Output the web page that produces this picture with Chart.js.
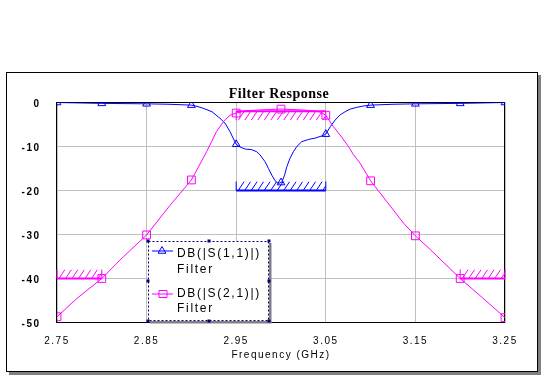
<!DOCTYPE html>
<html>
<head>
<meta charset="utf-8">
<script src="https://cdn.jsdelivr.net/npm/chart.js@4.4.1/dist/chart.umd.min.js"></script>
<style>
  html, body { margin: 0; padding: 0; background: #fff; }
  #wrap { width: 546px; height: 388px; }
</style>
</head>
<body>
<div id="wrap"><canvas id="chart" width="546" height="388"></canvas></div>
<script>
const chartTitle = "Filter Response";
const xTitle = "Frequency (GHz)";

// frequency ticks (GHz)
const xTicks = [2.75, 2.85, 2.95, 3.05, 3.15, 3.25];

// DB(|S(1,1)|) trace
const s11Freq = [2.75, 2.80, 2.85, 2.875, 2.90, 2.905, 2.913, 2.923, 2.932, 2.9375,
  2.943, 2.9485, 2.95, 2.955, 2.9605, 2.967, 2.973, 2.9766, 2.982, 2.986,
  2.9897, 2.9934, 2.997, 3.001, 3.004, 3.0065, 3.010, 3.0138, 3.0176, 3.0232,
  3.0306, 3.038, 3.0455, 3.05, 3.055, 3.0604, 3.066, 3.0716, 3.0772, 3.0846,
  3.092, 3.10, 3.125, 3.15, 3.20, 3.25];
const s11Db = [0, -0.2, -0.3, -0.4, -0.6, -0.8, -1.3, -2.1, -3.6, -4.7,
  -6.6, -8.9, -9.5, -10.2, -10.6, -10.7, -11.2, -11.9, -13.4, -15.0,
  -16.5, -17.8, -18.4, -18.1, -16.5, -14.6, -12.7, -11.2, -10.0, -8.9,
  -8.4, -8.1, -7.6, -7.2, -5.5, -4.0, -2.8, -2.1, -1.5, -1.1,
  -0.8, -0.6, -0.4, -0.3, -0.2, 0];

// DB(|S(2,1)|) trace
const s21Freq = [2.75, 2.7718, 2.80, 2.8239, 2.85, 2.876, 2.90, 2.917, 2.928, 2.9356,
  2.943, 2.95, 2.96, 2.975, 3.00, 3.025, 3.04, 3.0439, 3.05, 3.0585,
  3.066, 3.0753, 3.081, 3.0883, 3.10, 3.118, 3.1367, 3.15, 3.1665,
  3.20, 3.225, 3.25];
const s21Db = [-48.7, -44.6, -40.0, -35.1, -30.1, -23.4, -17.6, -11.2, -6.6, -4.4,
  -2.9, -2.4, -1.9, -1.7, -1.5, -1.7, -2.0, -2.2, -2.9, -5.5,
  -7.4, -10.0, -11.9, -13.8, -17.8, -22.5, -27.4, -30.3, -33.4,
  -40.0, -44.4, -48.9];

// trace markers
const markerFreq = [2.75, 2.80, 2.85, 2.90, 2.95, 3.00, 3.05, 3.10, 3.15, 3.20, 3.25];
const s11MarkerDb = [0, -0.2, -0.3, -0.6, -9.5, -18.2, -7.2, -0.6, -0.3, -0.2, 0];
const s21MarkerDb = [-48.7, -40.0, -30.1, -17.6, -2.4, -1.5, -2.9, -17.8, -30.3, -40.0, -48.9];

// optimisation goals: S21 > -2 dB in band, S11 < -20 dB in band, S21 < -40 dB out of band
const goalSeries = ["S21", "S11", "S21", "S21"];
const goalType = [">", "<", "<", "<"];
const goalStart = [2.95, 2.95, 2.75, 3.20];
const goalStop = [3.05, 3.05, 2.80, 3.25];
const goalDb = [-2, -20, -40, -40];

const legendLabels = ["DB(|S(1,1)|)", "DB(|S(2,1)|)"];
const legendSub = ["Filter", "Filter"];

const BLUE = "#0000ff";
const MAGENTA = "#ff00ff";
const seriesColor = { S11: BLUE, S21: MAGENTA };

const pts = (xs, ys) => xs.map((x, i) => ({ x, y: ys[i] }));

Chart.defaults.font.family = "'Liberation Sans', Arial, sans-serif";

function drawGoal(ctx, xs, ys, i) {
  const x1 = xs.getPixelForValue(goalStart[i]);
  const x2 = xs.getPixelForValue(goalStop[i]);
  const y = ys.getPixelForValue(goalDb[i]);
  const h = 9;
  // hatch sits on the failing side of the limit
  const top = goalType[i] === ">" ? y : y - h;
  const bottom = top + h;
  ctx.strokeStyle = seriesColor[goalSeries[i]];

  ctx.lineWidth = 2;
  ctx.beginPath();
  ctx.moveTo(x1, y);
  ctx.lineTo(x2, y);
  ctx.stroke();

  ctx.lineWidth = 1;
  ctx.beginPath();
  ctx.moveTo(x1, top);
  ctx.lineTo(x1, bottom);
  ctx.moveTo(x2, top);
  ctx.lineTo(x2, bottom);
  ctx.stroke();

  ctx.save();
  ctx.beginPath();
  ctx.rect(x1, top, x2 - x1, h);
  ctx.clip();
  ctx.beginPath();
  for (let x = x1 + 2; x < x2 + h; x += 6.5) {
    ctx.moveTo(x, bottom);
    ctx.lineTo(x + 6, top);
  }
  ctx.stroke();
  ctx.restore();
}

const decorPlugin = {
  id: "decor",
  beforeDraw(chart) {
    const ctx = chart.ctx;
    ctx.save();
    ctx.fillStyle = "#fff";
    ctx.fillRect(0, 0, chart.width, chart.height);
    // graph window with its drop shadow
    ctx.fillStyle = "#808080";
    ctx.fillRect(538, 75, 3, 300);
    ctx.fillRect(9, 372, 532, 3);
    ctx.strokeStyle = "#000";
    ctx.lineWidth = 1;
    ctx.strokeRect(6.5, 72.5, 531, 299);
    ctx.restore();
    ctx.letterSpacing = "1.5px";
  },
  beforeDatasetsDraw(chart) {
    const { ctx, chartArea: a, scales } = chart;
    ctx.save();
    ctx.strokeStyle = "#000";
    ctx.lineWidth = 1;
    ctx.strokeRect(Math.round(a.left) - 0.5, Math.round(a.top) - 0.5,
      Math.round(a.right - a.left), Math.round(a.bottom - a.top));
    for (let i = 0; i < goalDb.length; i++) drawGoal(ctx, scales.x, scales.y, i);
    ctx.restore();
  },
  afterDraw(chart) {
    const { ctx, chartArea: a } = chart;
    ctx.save();

    // title
    ctx.letterSpacing = "0.5px";
    ctx.fillStyle = "#000";
    ctx.font = "bold 14px 'Liberation Serif', 'Times New Roman', serif";
    ctx.textAlign = "center";
    ctx.textBaseline = "alphabetic";
    ctx.fillText(chartTitle, (a.left + a.right) / 2 - 2, 97.5);

    // legend box
    const L = 148, T = 241, R = 269, B = 321;
    ctx.fillStyle = "#808080";
    ctx.fillRect(R, T + 2, 2.5, B - T);
    ctx.fillRect(L + 2, B, R - L + 0.5, 2.5);
    ctx.fillStyle = "#fff";
    ctx.fillRect(L, T, R - L, B - T);
    ctx.strokeStyle = "#000080";
    ctx.lineWidth = 1;
    ctx.setLineDash([2, 2]);
    ctx.strokeRect(L + 0.5, T + 0.5, R - L - 1, B - T - 1);
    ctx.setLineDash([]);
    ctx.fillStyle = "#000080";
    const mx = Math.round((L + R) / 2), my = Math.round((T + B) / 2);
    [[L, T], [mx, T], [R, T], [L, my], [R, my], [L, B], [mx, B], [R, B]].forEach(([hx, hy]) => {
      ctx.fillRect(hx - 1.5, hy - 1.5, 3, 3);
    });

    const lineY = [251, 294];
    const mainBase = [257, 297];
    const subBase = [273, 312];
    const colors = [BLUE, MAGENTA];
    ctx.textAlign = "left";
    ctx.font = "12px 'Liberation Sans', Arial, sans-serif";
    ctx.letterSpacing = "1.7px";
    for (let i = 0; i < legendLabels.length; i++) {
      ctx.strokeStyle = colors[i];
      ctx.lineWidth = 1;
      ctx.beginPath();
      ctx.moveTo(L + 4, lineY[i]);
      ctx.lineTo(L + 25, lineY[i]);
      ctx.stroke();
      ctx.beginPath();
      if (i === 0) {
        const cx = L + 14, r = 4.5;
        ctx.moveTo(cx, lineY[i] - r);
        ctx.lineTo(cx + r * 0.866, lineY[i] + r / 2);
        ctx.lineTo(cx - r * 0.866, lineY[i] + r / 2);
        ctx.closePath();
      } else {
        ctx.rect(L + 11, lineY[i] - 3.5, 8, 7);
      }
      ctx.stroke();
      ctx.fillStyle = "#000";
      ctx.fillText(legendLabels[i], L + 29, mainBase[i]);
      ctx.fillText(legendSub[i], L + 29, subBase[i]);
    }
    ctx.restore();
  },
};

new Chart(document.getElementById("chart").getContext("2d"), {
  type: "line",
  data: {
    datasets: [
      {
        label: legendLabels[1],
        data: pts(s21Freq, s21Db),
        borderColor: MAGENTA,
        borderWidth: 1,
        pointRadius: 0,
        tension: 0,
      },
      {
        label: legendLabels[1] + " markers",
        data: pts(markerFreq, s21MarkerDb),
        showLine: false,
        pointStyle: "rect",
        pointRadius: 5.5,
        pointBorderWidth: 1,
        borderColor: MAGENTA,
        backgroundColor: "rgba(0,0,0,0)",
      },
      {
        label: legendLabels[0],
        data: pts(s11Freq, s11Db),
        borderColor: BLUE,
        borderWidth: 1,
        pointRadius: 0,
        tension: 0,
      },
      {
        label: legendLabels[0] + " markers",
        data: pts(markerFreq, s11MarkerDb),
        showLine: false,
        pointStyle: "triangle",
        pointRadius: 4.5,
        pointBorderWidth: 1,
        borderColor: BLUE,
        backgroundColor: "rgba(0,0,0,0)",
      },
    ],
  },
  options: {
    responsive: false,
    devicePixelRatio: 1,
    animation: false,
    layout: { padding: { top: 102.5, right: 41, bottom: 0, left: 0 } },
    plugins: {
      legend: { display: false },
      title: { display: false },
      tooltip: { enabled: false },
    },
    scales: {
      x: {
        type: "linear",
        min: 2.75,
        max: 3.25,
        afterBuildTicks: (s) => {
          s.ticks = xTicks.map((v) => ({ value: v }));
        },
        afterFit: (s) => {
          s.height = 65.5;
          s.paddingLeft = 0;
          s.paddingRight = 0;
        },
        ticks: {
          autoSkip: false,
          maxRotation: 0,
          callback: (v) => Number(v).toFixed(2),
          font: { size: 10 },
          color: "#000",
          padding: 12.5,
        },
        grid: { color: "#c0c0c0", drawTicks: false },
        border: { display: false },
        title: {
          display: true,
          text: xTitle,
          color: "#000",
          font: { size: 10 },
          padding: { top: 0, bottom: 26.4 },
        },
      },
      y: {
        min: -50,
        max: 0,
        afterFit: (s) => {
          s.width = 57;
          s.paddingTop = 0;
          s.paddingBottom = 0;
        },
        ticks: {
          stepSize: 10,
          font: { size: 10, weight: "bold" },
          color: "#000",
          padding: 16.5,
          labelOffset: 2,
        },
        grid: { color: "#c0c0c0", drawTicks: false },
        border: { display: false },
      },
    },
  },
  plugins: [decorPlugin],
});
</script>
</body>
</html>
